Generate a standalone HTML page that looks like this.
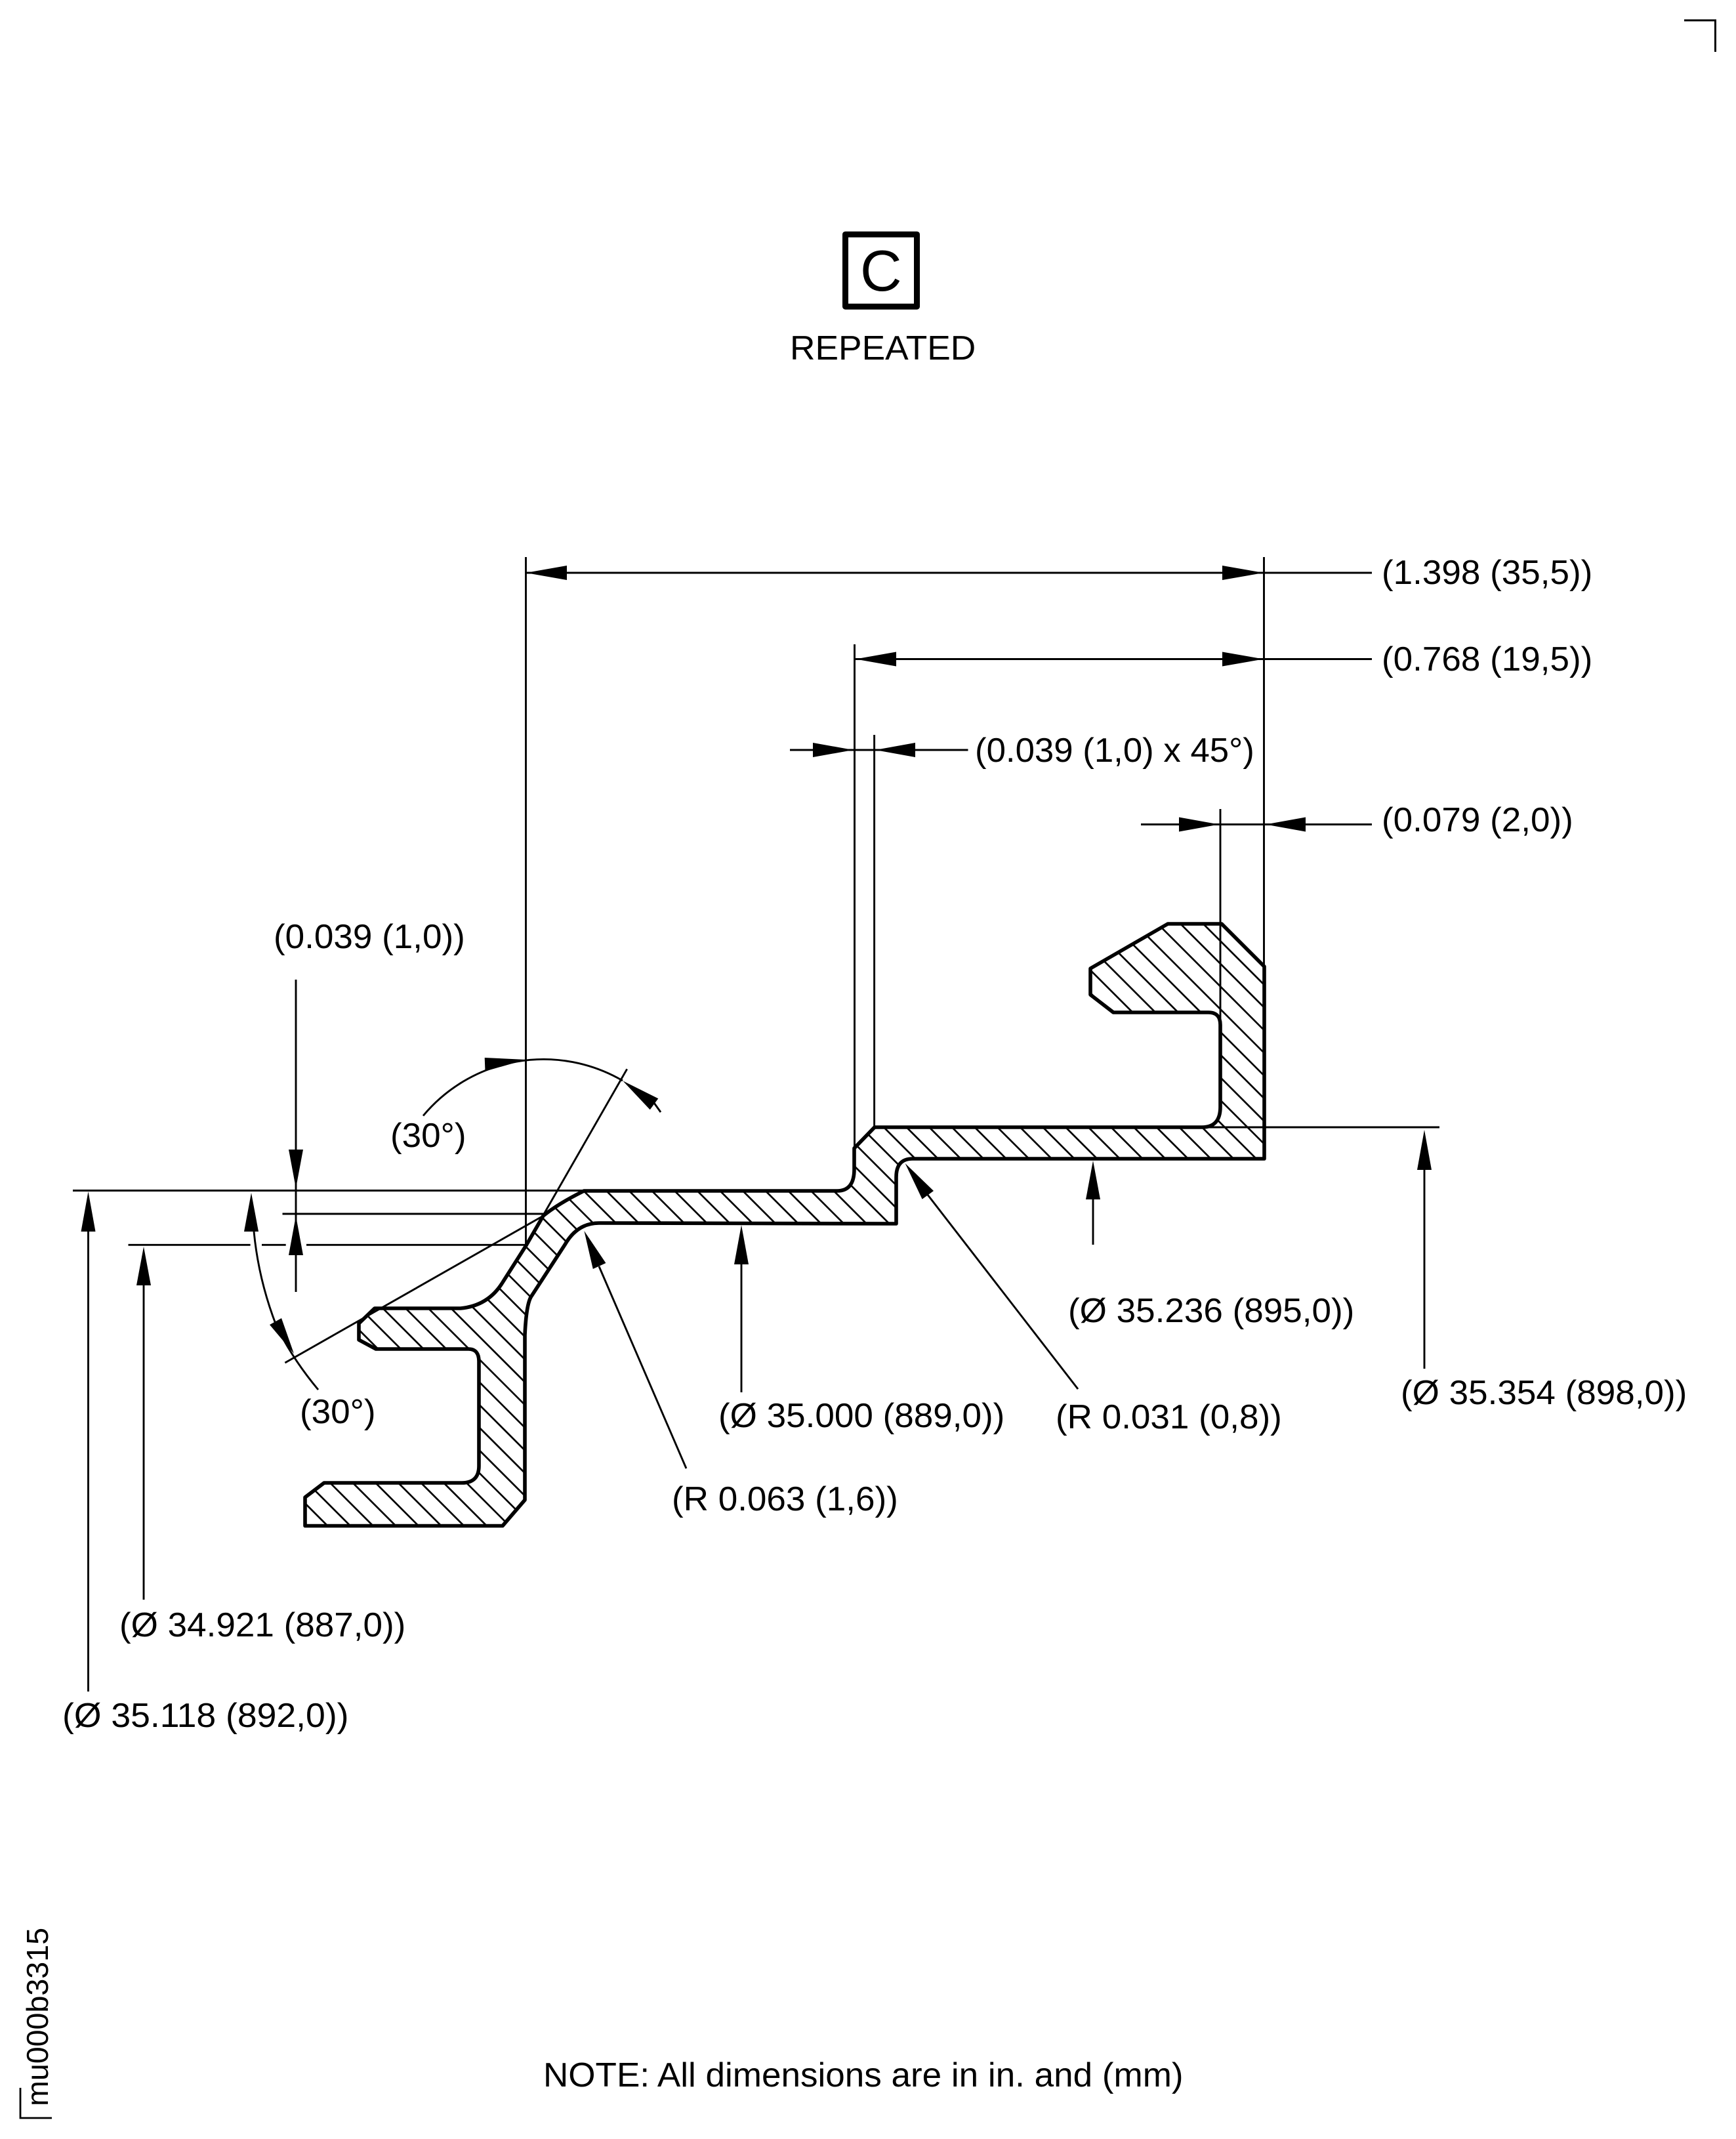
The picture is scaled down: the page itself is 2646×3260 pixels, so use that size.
<!DOCTYPE html>
<html>
<head>
<meta charset="utf-8">
<style>
html,body{margin:0;padding:0;background:#fff}
svg{display:block}
text{font-family:"Liberation Sans",Arial,sans-serif;font-size:52px;fill:#000}
</style>
</head>
<body>
<svg xmlns="http://www.w3.org/2000/svg" width="2646" height="3260" viewBox="0 0 2646 3260">
<rect width="2646" height="3260" fill="#fff"/>
<defs>
<clipPath id="sec"><path d="M1333 1718L1832 1718Q1860 1718 1860 1687L1860 1562Q1860 1543 1842 1543L1697 1543L1662 1516L1662 1476L1780 1408L1862 1408L1927 1473L1927 1766L1391 1766Q1366 1766 1366 1794L1366 1865L913 1864Q880 1864 861 1897L809 1977Q802 1990 800 2035L800 2286L766 2325.5L465 2325.5L465 2282L494 2260L704 2260Q730 2260 730 2234L730 2075Q730 2056 714 2056L573 2056L547 2042L547 2017L571 1994L702 1994Q745 1990 767 1953L802 1898L828 1853Q850 1835 890 1815L1276 1815Q1302 1815 1302 1782L1302 1750Z"/></clipPath>
</defs>

<!-- hatch -->
<g clip-path="url(#sec)">
<line x1="400" y1="2297.4" x2="2200" y2="497.4" stroke="#000" stroke-width="4000" stroke-dasharray="2.7 21.8"/>
</g>
<!-- outline -->
<path d="M1333 1718L1832 1718Q1860 1718 1860 1687L1860 1562Q1860 1543 1842 1543L1697 1543L1662 1516L1662 1476L1780 1408L1862 1408L1927 1473L1927 1766L1391 1766Q1366 1766 1366 1794L1366 1865L913 1864Q880 1864 861 1897L809 1977Q802 1990 800 2035L800 2286L766 2325.5L465 2325.5L465 2282L494 2260L704 2260Q730 2260 730 2234L730 2075Q730 2056 714 2056L573 2056L547 2042L547 2017L571 1994L702 1994Q745 1990 767 1953L802 1898L828 1853Q850 1835 890 1815L1276 1815Q1302 1815 1302 1782L1302 1750Z" fill="none" stroke="#000" stroke-width="5.6" stroke-linejoin="round"/>

<!-- thin lines -->
<g stroke="#000" stroke-width="2.9" fill="none">
<!-- extension verticals -->
<path d="M801.5 849V1898"/>
<path d="M1926.5 849V1473"/>
<path d="M1302.5 982V1750"/>
<path d="M1332.6 1120V1718"/>
<path d="M1860 1233V1557"/>
<!-- dim 1, 2 -->
<path d="M801 873H2091"/>
<path d="M1303 1004.5H2091"/>
<!-- dim 3 -->
<path d="M1204 1143H1475.5"/>
<!-- dim 4 -->
<path d="M1739 1256.5H2091"/>
<!-- right ext -->
<path d="M1832 1718H2194"/>
<path d="M2171 1775V2086"/>
<!-- bottom arrows -->
<path d="M1666 1820V1897"/>
<path d="M1130 1920V2122"/>
<!-- leaders -->
<path d="M1414 1821L1643 2117"/>
<path d="M913 1930L1046 2238"/>
<!-- left horizontals -->
<path d="M111 1814.5H890"/>
<path d="M430.5 1850H830"/>
<path d="M195.5 1897.3H381.6M399 1897.3H435.7M467 1897.3H801.5"/>
<!-- left verticals -->
<path d="M134.5 1870V2578"/>
<path d="M219 1950V2438"/>
<path d="M451 1493V1969"/>
<!-- tangent lines -->
<path d="M434.4 2077L827 1853.6"/>
<path d="M828.6 1851L955.7 1629.3"/>
<!-- arcs -->
<path d="M645 1700.5A239 239 0 0 1 949 1647"/>
<path d="M997 1681L1007 1695"/>
<path d="M387 1877Q394 1950 421 2020Q445 2070 485 2118"/>
</g>

<!-- arrowheads -->
<g fill="#000" stroke="none">
<polygon points="801.5,873 864,862 864,884"/>
<polygon points="1926,873 1863,862 1863,884"/>
<polygon points="1304,1004.5 1366,993.5 1366,1015.5"/>
<polygon points="1926,1004.5 1863,993.5 1863,1015.5"/>
<polygon points="1300.5,1143 1239,1132 1239,1154"/>
<polygon points="1334,1143 1395,1132 1395,1154"/>
<polygon points="1858,1256.5 1797,1245.5 1797,1267.5"/>
<polygon points="1929,1256.5 1990,1245.5 1990,1267.5"/>
<polygon points="2171,1722 2160,1783 2182,1783"/>
<polygon points="1666,1769 1655,1828 1677,1828"/>
<polygon points="1130,1867 1119,1927 1141,1927"/>
<polygon points="1379.6,1773 1405.6,1827.6 1423,1815"/>
<polygon points="890.4,1876 903.8,1934 923.4,1925"/>
<polygon points="134.5,1816 123.5,1877 145.5,1877"/>
<polygon points="383,1818 372,1877 394,1877"/>
<polygon points="219,1900 208,1959 230,1959"/>
<polygon points="451,1811 440,1752 462,1752"/>
<polygon points="451,1853 440,1913 462,1913"/>
<polygon points="448,2063 411,2019 429,2009"/>
<polygon points="801.4,1615 738.7,1612 739.5,1632.6"/>
<polygon points="949.3,1647.3 1003.3,1674.3 990.7,1691.3"/>
</g>

<!-- box C -->
<rect x="1288.5" y="357.2" width="109" height="110" fill="none" stroke="#000" stroke-width="9" stroke-linejoin="round"/>
<text x="1311" y="443" style="font-size:88px">C</text>
<text transform="translate(1204 548) scale(1.025 1)">REPEATED</text>

<!-- corner marks -->
<path d="M2567 31H2614.5V79" fill="none" stroke="#000" stroke-width="3"/>
<path d="M31 3182V3228H79" fill="none" stroke="#000" stroke-width="2.8"/>
<text transform="translate(73 3210) rotate(-90)" style="font-size:46.6px">mu000b3315</text>

<!-- labels -->
<text transform="translate(2106 890) scale(1.02 1)">(1.398 (35,5))</text>
<text transform="translate(2106 1022) scale(1.02 1)">(0.768 (19,5))</text>
<text transform="translate(1486 1161) scale(1.015 1)">(0.039 (1,0) x 45°)</text>
<text transform="translate(2106 1267) scale(1.02 1)">(0.079 (2,0))</text>
<text transform="translate(417 1445) scale(1.02 1)">(0.039 (1,0))</text>
<text transform="translate(595 1748) scale(1.02 1)">(30°)</text>
<text transform="translate(457 2169) scale(1.02 1)">(30°)</text>
<text transform="translate(1628 2015) scale(1.02 1)">(Ø 35.236 (895,0))</text>
<text transform="translate(2135 2140) scale(1.02 1)">(Ø 35.354 (898,0))</text>
<text transform="translate(1609 2177) scale(1.02 1)">(R 0.031 (0,8))</text>
<text transform="translate(1095 2175) scale(1.02 1)">(Ø 35.000 (889,0))</text>
<text transform="translate(1024 2302) scale(1.02 1)">(R 0.063 (1,6))</text>
<text transform="translate(182 2494) scale(1.02 1)">(Ø 34.921 (887,0))</text>
<text transform="translate(95 2632) scale(1.03 1)">(Ø 35.118 (892,0))</text>
<text transform="translate(828 3180) scale(1.02 1)">NOTE: All dimensions are in in. and (mm)</text>
</svg>
</body>
</html>
